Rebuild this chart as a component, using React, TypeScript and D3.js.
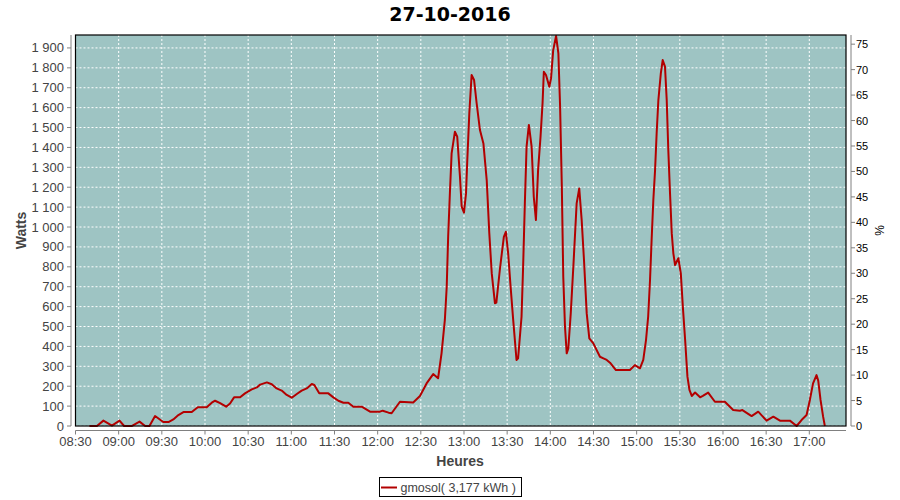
import React from "react";
import * as d3 from "d3";

const title = "27-10-2016";
const yLabel = "Watts";
const y2Label = "%";
const xLabel = "Heures";
const seriesName = "gmosol( 3,177 kWh )";

// minutes elapsed since 08:30
const elapsed = [
  9.7, 14.9, 19.4, 25.3, 30.6, 33.8, 39, 44.5, 48.4, 51.4, 55.3, 61, 64.6, 68, 71.5, 75, 80.8, 85, 91.2,
  94.7, 97, 100.5, 104.7, 107.4, 110.2, 114.4, 117.8, 122.5, 126, 128.3, 133, 136.4, 139.8, 143.3, 146.8,
  150.3, 153.8, 157.2, 160.7, 164.2, 166, 169.4, 175.7, 179.2, 182.7, 186.2, 189.6, 193.1, 198.9, 204.7,
  211.6, 213.5, 217.6, 219.7, 225.5, 234.7, 239.4, 244, 248.6, 252, 254.4, 256.7, 258, 259, 260.2, 261.4,
  263.7, 265.3, 267.2, 268.4, 270, 271.4, 272.3, 273.7, 275.3, 277, 278.8, 281.1, 283.5, 285.8, 287.6,
  289.3, 291.5, 292.5, 294.9, 297.7, 299.1, 300.7, 302.4, 304.2, 306.5, 307.6, 310, 311.1, 312.3, 313.5,
  315.1, 317, 318.5, 320, 321.5, 323.2, 324.6, 325.5, 327, 329.3, 330.5, 332, 334, 335.6, 336.8, 338, 339,
  340.2, 341.4, 342.5, 344.2, 346, 348.3, 350.1, 351.8, 353.4, 355.3, 357.1, 359.9, 364.5, 366.9, 369.2,
  371.5, 375.6, 385.3, 388.8, 392.3, 394.6, 396.5, 398, 399.3, 400.4, 401.6, 402.8, 403.9, 405.1, 406.8,
  408.1, 409.7, 410.9, 412, 413.2, 414.4, 415.5, 416.7, 419, 420.7, 422.1, 423.7, 425.3, 426.7, 428.3,
  430.6, 434.1, 436, 439.7, 444.4, 451.3, 457.1, 461.8, 463.5, 469.9, 474.5, 480.3, 485, 489.6, 496.5,
  501.2, 504.6, 508.1, 510.4, 512.6, 515, 516.2, 517.8, 519.6, 520.8,
];

const watts = [
  0, 0, 27, 2, 27, 0, 0, 22, 0, 0, 50, 20, 20, 33, 55, 70, 70, 94, 94,
  117, 127, 115, 97, 113, 144, 144, 164, 184, 194, 208, 219, 210, 189, 178, 156,
  142, 161, 178, 189, 211, 206, 164, 164, 144, 127, 117, 117, 97, 97, 72,
  72, 77, 67, 64, 122, 118, 151, 214, 261, 240, 365, 533, 700, 951, 1169, 1370,
  1479, 1454, 1253, 1102, 1072, 1169, 1337, 1571, 1764, 1739, 1622, 1487, 1420, 1236, 968,
  767, 617, 620, 784, 951, 976, 868, 700, 533, 332, 340, 549, 800, 1119, 1404,
  1513, 1404, 1152, 1035, 1286, 1454, 1622, 1780, 1764, 1705, 1747, 1889, 1960, 1873, 1605, 1203, 750,
  499, 365, 390, 566, 800, 1119, 1194, 1035, 834, 566, 440, 415, 348, 340, 332,
  318, 281, 281, 306, 290, 332, 432, 549, 734, 935, 1136, 1286, 1471, 1638, 1772,
  1839, 1806, 1638, 1387, 1169, 968, 868, 809, 843, 767, 600, 432, 248, 181, 151,
  168, 144, 151, 168, 122, 122, 80, 77, 80, 50, 72, 27, 47, 27, 27,
  0, 30, 55, 131, 214, 256, 228, 131, 47, 0,
];

const xTickLabels = [
  "08:30", "09:00", "09:30", "10:00", "10:30", "11:00", "11:30", "12:00", "12:30",
  "13:00", "13:30", "14:00", "14:30", "15:00", "15:30", "16:00", "16:30", "17:00",
];
const yTicks = [0, 100, 200, 300, 400, 500, 600, 700, 800, 900, 1000, 1100, 1200, 1300, 1400, 1500, 1600, 1700, 1800, 1900];
const y2Ticks = [0, 5, 10, 15, 20, 25, 30, 35, 40, 45, 50, 55, 60, 65, 70, 75];

const fmtW = (n: number) =>
  n >= 1000 ? `${Math.floor(n / 1000)} ${String(n % 1000).padStart(3, "0")}` : String(n);
const toMin = (s: string) => {
  const [h, m] = s.split(":").map(Number);
  return h * 60 + m - (8 * 60 + 30);
};

export default function App() {
  const L = 75.5, R = 846, T = 35, B = 426;
  const x = d3.scaleLinear().domain([0, 535.5]).range([L, R]);
  const y = d3.scaleLinear().domain([0, 1965]).range([B, T]);
  const y2 = d3.scaleLinear().domain([0, 76.8]).range([B, T]);
  const pts = elapsed.map((t, i) => [t, watts[i]] as [number, number]);
  const line = d3.line<[number, number]>().x((d) => x(d[0])).y((d) => y(d[1]));
  const font = "'Liberation Sans', Arial, sans-serif";
  const axisGray = "#808080";
  const red = "#b30000";

  return (
    <svg width={900} height={500} style={{ position: "absolute", left: 0, top: 0, background: "#fff" }} fontFamily={font}>
      <text x={450} y={21} textAnchor="middle" fontFamily="'DejaVu Sans', sans-serif" fontWeight="bold" fontSize={19}>
        {title}
      </text>
      <rect x={L} y={T} width={R - L} height={B - T} fill="#9ec4c3" />
      {yTicks.map((v) => (
        <line key={"gy" + v} x1={L} x2={R} y1={y(v)} y2={y(v)} stroke="#fff" strokeWidth={1} strokeDasharray="2,2" />
      ))}
      {xTickLabels.map((s) => (
        <line key={"gx" + s} x1={x(toMin(s))} x2={x(toMin(s))} y1={T} y2={B} stroke="#fff" strokeWidth={1} strokeDasharray="2,2" />
      ))}
      <path d={line(pts) || ""} fill="none" stroke={red} strokeWidth={2} strokeLinejoin="round" />
      <rect x={L} y={T} width={R - L} height={B - T} fill="none" stroke="#000" strokeWidth={1.2} />

      {/* left axis */}
      <line x1={71} x2={71} y1={T} y2={B} stroke={axisGray} strokeWidth={1} />
      {yTicks.map((v) => (
        <g key={"ly" + v}>
          <line x1={67} x2={71} y1={y(v)} y2={y(v)} stroke={axisGray} />
          <text x={64} y={y(v) + 4.5} textAnchor="end" fontSize={13} fill="#444">
            {fmtW(v)}
          </text>
        </g>
      ))}
      <text transform={`translate(26,${(T + B) / 2}) rotate(-90)`} textAnchor="middle" fontWeight="bold" fontSize={14} fill="#444">
        {yLabel}
      </text>

      {/* right axis */}
      <line x1={851} x2={851} y1={T} y2={B} stroke={axisGray} strokeWidth={1} />
      {y2Ticks.map((v) => (
        <g key={"ry" + v}>
          <line x1={851} x2={855} y1={y2(v)} y2={y2(v)} stroke={axisGray} />
          <text x={856} y={y2(v) + 4} textAnchor="start" fontSize={11} fill="#000">
            {v}
          </text>
        </g>
      ))}
      <text transform={`translate(884,${(T + B) / 2}) rotate(-90)`} textAnchor="middle" fontSize={12} fill="#000">
        {y2Label}
      </text>

      {/* bottom axis */}
      <line x1={L} x2={R} y1={430.5} y2={430.5} stroke={axisGray} strokeWidth={1} />
      {xTickLabels.map((s) => (
        <g key={"bx" + s}>
          <line x1={x(toMin(s))} x2={x(toMin(s))} y1={430.5} y2={434.5} stroke={axisGray} />
          <text x={x(toMin(s))} y={446} textAnchor="middle" fontSize={13} fill="#444">
            {s}
          </text>
        </g>
      ))}
      <text x={460} y={466} textAnchor="middle" fontWeight="bold" fontSize={14} fill="#444">
        {xLabel}
      </text>

      {/* legend */}
      <rect x={379.5} y={477.5} width={142} height={19} fill="#fff" stroke="#000" strokeWidth={1} />
      <line x1={381} x2={397} y1={487.5} y2={487.5} stroke={red} strokeWidth={2} />
      <text x={400.5} y={492} fontSize={12.5} fill="#444">
        {seriesName}
      </text>
    </svg>
  );
}
